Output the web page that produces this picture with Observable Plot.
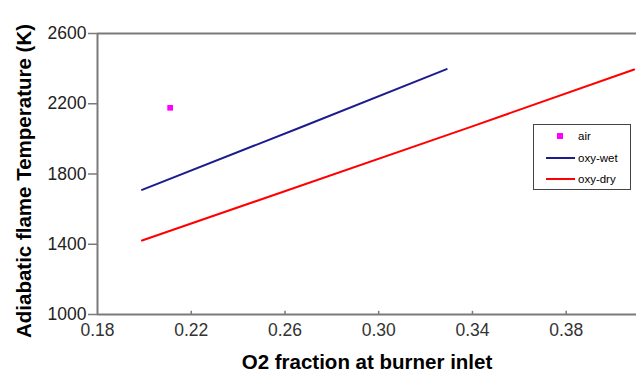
<!DOCTYPE html>
<html>
<head>
<meta charset="utf-8">
<script src="https://cdn.jsdelivr.net/npm/d3@7"></script>
<script src="https://cdn.jsdelivr.net/npm/@observablehq/plot@0.6"></script>
<style>
  html, body { margin: 0; padding: 0; background: #fff; }
  #wrap { position: relative; width: 636px; height: 374px; overflow: hidden; font-family: "Liberation Sans", Arial, sans-serif; }
  #legend { position: absolute; left: 533px; top: 124px; width: 96px; height: 64px; border: 1px solid #444; background: #fff; font-size: 11.5px; color: #000; }
  #legend .row { position: absolute; left: 0; height: 14px; display: flex; align-items: center; }
  #legend .row span { position: absolute; left: 44px; white-space: nowrap; }
</style>
</head>
<body>
<div id="wrap"></div>
<script>
// Data
const seriesNames = ["air", "oxy-wet", "oxy-dry"];
const seriesColors = ["#ff00ff", "#1c1c8e", "#ff0000"];

const airO2 = [0.211];
const airT = [2177];

const wetO2 = [0.199, 0.266, 0.329];
const wetT = [1710, 2062, 2397];

const dryO2 = [0.199, 0.339, 0.409];
const dryT = [1421, 2067, 2395];

const xTicks = [0.18, 0.22, 0.26, 0.30, 0.34, 0.38];
const yTicks = [1000, 1400, 1800, 2200, 2600];

const xTitle = "O2 fraction at burner inlet";
const yTitle = "Adiabatic flame Temperature (K)";

const air = airO2.map((x, i) => ({x, y: airT[i]}));
const wet = wetO2.map((x, i) => ({x, y: wetT[i]}));
const dry = dryO2.map((x, i) => ({x, y: dryT[i]}));

const axisColor = "#7a7a7a";

const chart = Plot.plot({
  width: 636,
  height: 374,
  marginLeft: 97,
  marginRight: 0,
  marginTop: 33,
  marginBottom: 60,
  style: { fontFamily: "'Liberation Sans', Arial, sans-serif", fontSize: "17px", color: "#000", background: "#fff" },
  x: { domain: [0.18, 0.41] },
  y: { domain: [1000, 2600] },
  marks: [
    Plot.ruleY([2600], { stroke: axisColor, strokeWidth: 2 }),
    Plot.ruleY([1000], { stroke: axisColor, strokeWidth: 2 }),
    Plot.ruleX([0.18], { stroke: axisColor, strokeWidth: 2 }),
    Plot.ruleX(xTicks.slice(1), { y1: 1000, y2: 1018, stroke: axisColor, strokeWidth: 1.5 }),
    Plot.axisY({ ticks: yTicks, tickSize: 9, tickPadding: 2, tickFormat: d => String(d), stroke: axisColor, strokeWidth: 1.5, label: null, fontSize: 17.5, fill: "#222" }),
    Plot.axisX({ ticks: xTicks, tickSize: 0, tickPadding: 9, tickFormat: d => d.toFixed(2), label: null, fontSize: 17.5, fill: "#333" }),
    Plot.line(wet, { x: "x", y: "y", stroke: seriesColors[1], strokeWidth: 2 }),
    Plot.line(dry, { x: "x", y: "y", stroke: seriesColors[2], strokeWidth: 2 }),
    Plot.dot(air, { x: "x", y: "y", symbol: "square", r: 3.2, fill: seriesColors[0] }),
    Plot.text([xTitle], { frameAnchor: "bottom", dy: 48, text: d => d, fontWeight: "bold", fontSize: 20.5, lineAnchor: "middle", textAnchor: "middle" }),
    Plot.text([yTitle], { frameAnchor: "left", dx: -73, dy: 7, rotate: -90, text: d => d, fontWeight: "bold", fontSize: 20.5, lineAnchor: "middle", textAnchor: "middle" })
  ]
});

const wrap = document.getElementById("wrap");
wrap.appendChild(chart);

// Legend
const legend = document.createElement("div");
legend.id = "legend";
const rowTops = [4, 26, 47];
seriesNames.forEach((name, i) => {
  const row = document.createElement("div");
  row.className = "row";
  row.style.top = rowTops[i] + "px";
  row.style.width = "96px";
  const sw = document.createElementNS("http://www.w3.org/2000/svg", "svg");
  sw.setAttribute("width", "44");
  sw.setAttribute("height", "14");
  if (i === 0) {
    const r = document.createElementNS("http://www.w3.org/2000/svg", "rect");
    r.setAttribute("x", 23); r.setAttribute("y", 4); r.setAttribute("width", 6); r.setAttribute("height", 6);
    r.setAttribute("fill", seriesColors[0]);
    sw.appendChild(r);
  } else {
    const l = document.createElementNS("http://www.w3.org/2000/svg", "line");
    l.setAttribute("x1", 12); l.setAttribute("x2", 41); l.setAttribute("y1", 7); l.setAttribute("y2", 7);
    l.setAttribute("stroke", seriesColors[i]); l.setAttribute("stroke-width", 2);
    sw.appendChild(l);
  }
  row.appendChild(sw);
  const t = document.createElement("span");
  t.textContent = name;
  row.appendChild(t);
  legend.appendChild(row);
});
wrap.appendChild(legend);
</script>
</body>
</html>
